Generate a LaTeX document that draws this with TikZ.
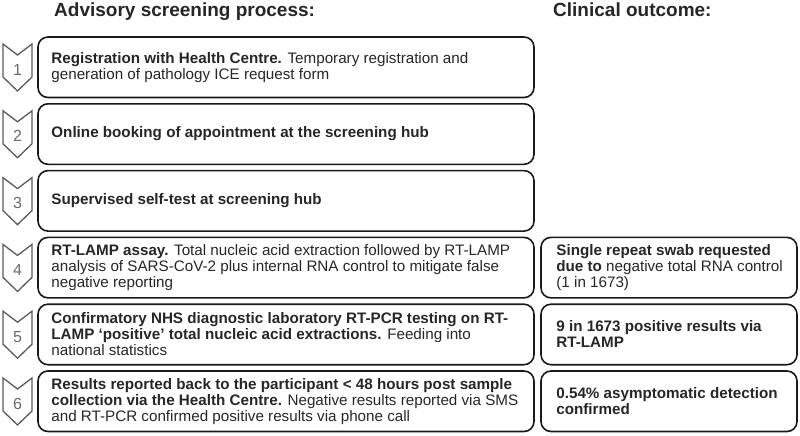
\documentclass[tikz,border=0pt]{standalone}
\usepackage{fontspec}
\setmainfont{Liberation Sans}
\definecolor{txt}{HTML}{262626}
\definecolor{chev}{HTML}{5A5A5A}
\definecolor{num}{HTML}{6A6A6A}
\begin{document}
\begin{tikzpicture}[x=1pt,y=-1pt,
  stepbox/.style={draw=black!90, line width=1.6pt, rounded corners=10pt, inner sep=0pt, minimum height=60.5pt},
  leftbox/.style={stepbox, minimum width=496pt},
  rightbox/.style={stepbox, minimum width=256pt},
  body/.style={anchor=west, align=left, inner sep=0pt, text=txt, font=\fontsize{15.2}{16}\selectfont},
  head/.style={anchor=base west, inner sep=0pt, text=txt, font=\fontsize{19}{22}\selectfont\bfseries},
  chevron/.style={draw=chev, line width=1.3pt, line join=miter},
  numlabel/.style={text=num, font=\fontsize{16}{16}\selectfont, inner sep=0pt}]
\useasboundingbox (0,0) rectangle (800,436);

\node[head] (h1) at (54,17) {Advisory screening process:};
\node[head] (h2) at (553,17) {Clinical outcome:};

\foreach \i/\t in {1/37,2/103.8,3/170.6,4/237.4,5/304.2,6/371}{
  \draw[chevron] (3,\t+7) -- (17.5,\t+18) -- (32,\t+7) -- (32,\t+40) -- (17.5,\t+54) -- (3,\t+40) -- cycle;
  \node[numlabel] (n\i) at (17.5,\t+32.5) {\i};
  \node[leftbox] (b\i) at (286,\t+30.25) {};
}
\foreach \i/\t in {4/237.4,5/304.2,6/371}{
  \node[rightbox] (r\i) at (669,\t+30.25) {};
}

\node[body] (t1) at ([xshift=14pt]b1.west) {\textbf{Registration with Health Centre.} Temporary registration and\\generation of pathology ICE request form};
\node[body] (t2) at ([xshift=14pt]b2.west) {\textbf{Online booking of appointment at the screening hub}};
\node[body] (t3) at ([xshift=14pt]b3.west) {\textbf{Supervised self-test at screening hub}};
\node[body] (t4) at ([xshift=14pt]b4.west) {\textbf{RT-LAMP assay.} Total nucleic acid extraction followed by RT-LAMP\\analysis of SARS-CoV-2 plus internal RNA control to mitigate false\\negative reporting};
\node[body] (t5) at ([xshift=14pt]b5.west) {\textbf{Confirmatory NHS diagnostic laboratory RT-PCR testing on RT-}\\\textbf{LAMP ‘positive’ total nucleic acid extractions.} Feeding into\\national statistics};
\node[body] (t6) at ([xshift=14pt]b6.west) {\textbf{Results reported back to the participant < 48 hours post sample}\\\textbf{collection via the Health Centre.} Negative results reported via SMS\\and RT-PCR confirmed positive results via phone call};

\node[body] (s4) at ([xshift=16pt]r4.west) {\textbf{Single repeat swab requested}\\\textbf{due to} negative total RNA control\\(1 in 1673)};
\node[body] (s5) at ([xshift=16pt]r5.west) {\textbf{9 in 1673 positive results via}\\\textbf{RT-LAMP}};
\node[body] (s6) at ([xshift=16pt]r6.west) {\textbf{0.54\% asymptomatic detection}\\\textbf{confirmed}};
\end{tikzpicture}
\end{document}
